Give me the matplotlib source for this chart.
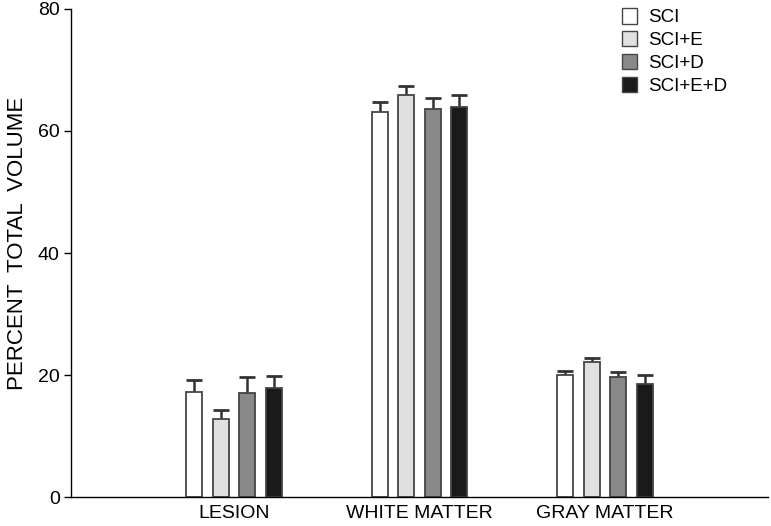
import matplotlib
matplotlib.use("Agg")
import matplotlib.pyplot as plt
import numpy as np
from matplotlib.patches import Patch

plt.rcParams['font.family'] = ['Liberation Sans', 'DejaVu Sans']

categories = ["LESION", "WHITE MATTER", "GRAY MATTER"]
groups = ["SCI", "SCI+E", "SCI+D", "SCI+E+D"]
sci = [17.2, 63.1, 20.0]
sci_e = [12.8, 65.9, 22.1]
sci_d = [17.1, 63.6, 19.7]
sci_e_d = [17.8, 63.9, 18.6]
sci_err = [2.0, 1.7, 0.7]
sci_e_err = [1.5, 1.4, 0.7]
sci_d_err = [2.6, 1.8, 0.8]
sci_e_d_err = [2.0, 2.0, 1.4]

values = [sci, sci_e, sci_d, sci_e_d]
errors = [sci_err, sci_e_err, sci_d_err, sci_e_d_err]
colors = ["#ffffff", "#e0e0e0", "#888888", "#1a1a1a"]

fig = plt.figure(figsize=(7.71, 5.26), dpi=100)
ax = fig.add_axes([0.092, 0.055, 0.904, 0.928])

x = np.arange(len(categories))
width = 0.086
step = 0.143
offsets = (np.arange(4) - 1.5) * step
for i in range(4):
    xs = x + offsets[i]
    v = np.array(values[i])
    e = np.array(errors[i])
    ax.vlines(xs, v, v + e, color="#333333", linewidth=1.8, zorder=1)
    ax.hlines(v + e, xs - width / 2, xs + width / 2, color="#333333", linewidth=2.0, zorder=1)
    ax.bar(xs, v, width, color=colors[i], edgecolor="#444444", linewidth=1.3, zorder=2)

ax.set_xlim(-0.879, 2.879)
ax.set_ylim(0, 80)
ax.set_yticks([0, 20, 40, 60, 80])
ax.set_xticks(x)
ax.set_xticklabels(categories, fontsize=14)
ax.tick_params(axis='x', length=0, pad=6)
ax.tick_params(axis='y', direction='out', length=5, width=1, labelsize=14, pad=3)
ax.spines['top'].set_visible(False)
ax.spines['right'].set_visible(False)
ax.spines['left'].set_linewidth(1)
ax.spines['bottom'].set_linewidth(1)
ax.set_ylabel("PERCENT  TOTAL  VOLUME", fontsize=16)
ax.yaxis.set_label_coords(-0.062, 0.52)

handles = [Patch(facecolor=colors[i], edgecolor="#444444", linewidth=1.0) for i in range(4)]
ax.legend(handles, groups, loc="upper left", bbox_to_anchor=(0.775, 1.025), frameon=False,
          fontsize=13.5, handlelength=0.8, handleheight=0.9, handletextpad=0.6,
          labelspacing=0.25, borderaxespad=0.2)

fig.savefig("out.png", dpi=100)
